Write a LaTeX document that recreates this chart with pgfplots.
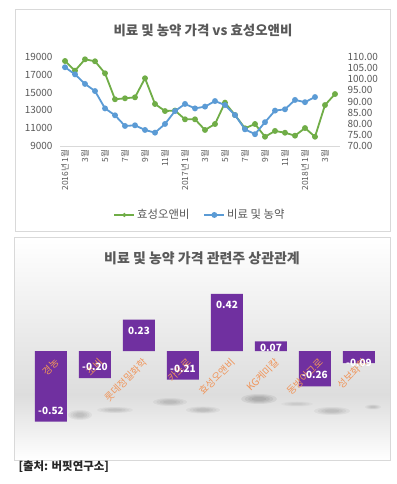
\documentclass[border=0pt]{standalone}
\usepackage{pgfplots}
\pgfplotsset{compat=1.18}
\usepackage{fontspec}
\setmainfont{Noto Sans CJK KR}
\definecolor{cgreen}{HTML}{70AD47}
\definecolor{cblue}{HTML}{5B9BD5}
\definecolor{cpurple}{HTML}{7030A0}
\definecolor{corange}{HTML}{F0955A}
\definecolor{ctext}{HTML}{595959}
\definecolor{cframe}{HTML}{D9D9D9}
\definecolor{cshade}{HTML}{DDDDDD}
\newcommand{\softshadow}[5]{% cx, cy, rx, ry, opacity
  \foreach \k in {1.0,0.8,0.6,0.4}{%
    \fill[black, opacity=#5] (#1bp,#2bp) ellipse ({#3*\k*1bp} and {#4*\k*1bp});}}

\begin{document}
\begin{tikzpicture}
\useasboundingbox (0bp,0bp) rectangle (397bp,484bp);
\fill[white] (0bp,0bp) rectangle (397bp,484bp);
% frames
\draw[cframe, line width=0.8bp] (15bp,253bp) rectangle (390bp,475bp);
\shade[top color=white, bottom color=cshade] (14bp,89bp) rectangle (390bp,247bp);
\shade[top color=cshade, bottom color=white] (14bp,24bp) rectangle (390bp,89.2bp);
% soft reflections under the bars
\softshadow{80}{69}{12}{5}{0.045}
\softshadow{115}{74}{18}{3}{0.04}
\softshadow{170}{82}{17}{4}{0.045}
\softshadow{203}{74}{17}{3.5}{0.045}
\softshadow{259}{85}{18}{5}{0.06}
\softshadow{297}{80}{16}{2.5}{0.025}
\softshadow{332}{73}{18}{4}{0.045}
\softshadow{373}{77}{8}{2.5}{0.035}
\draw[cframe, line width=0.8bp] (14bp,24bp) rectangle (390bp,247bp);
% titles
\node[font=\fontsize{13.5}{16}\selectfont\bfseries, text=ctext] at (203bp,454bp) {비료 및 농약 가격 vs 효성오앤비};
\node[font=\fontsize{14}{16}\selectfont\bfseries, text=ctext] at (202bp,226bp) {비료 및 농약 가격 관련주 상관관계};
\node[anchor=west, font=\fontsize{11.5}{14}\selectfont\bfseries, text=black!85] at (15bp,17bp) {[출처: 버핏연구소]};

% ---- top chart, left axis (green)
\begin{axis}[at={(60bp,338bp)}, anchor=south west, scale only axis,
  width=280bp, height=89bp,
  xmin=0.5, xmax=28.5, ymin=9000, ymax=19000,
  ytick={9000,11000,13000,15000,17000,19000},
  scaled y ticks=false,
  xtick={1,3,...,27},
  xticklabels={2016년 1월,3월,5월,7월,9월,11월,2017년 1월,3월,5월,7월,9월,11월,2018년 1월,3월},
  axis x line*=bottom, axis y line*=left,
  x axis line style={cframe, -, line width=0.8bp},
  y axis line style={draw=none},
  major tick length=0pt,
  /pgf/number format/assume math mode=true,
  /pgf/number format/1000 sep={},
  yticklabel style={font=\fontsize{10}{12}\selectfont, text=ctext, xshift=-4bp},
  xticklabel style={font=\fontsize{8.5}{10}\selectfont, text=ctext, rotate=90, anchor=east},
  clip=false]
\addplot[cgreen, line width=1.8bp, mark=*, mark size=2bp] coordinates {
(1,18550) (2,17460) (3,18740) (4,18520) (5,17170) (6,14250) (7,14360)
(8,14470) (9,16610) (10,13720) (11,12930) (12,12980) (13,12000) (14,12000)
(15,10800) (16,11470) (17,13870) (18,12480) (19,10990) (20,11470) (21,10040)
(22,10690) (23,10490) (24,10160) (25,11020) (26,10040) (27,13600) (28,14840)};
\end{axis}

% ---- top chart, right axis (blue)
\begin{axis}[at={(60bp,338bp)}, anchor=south west, scale only axis,
  width=280bp, height=89bp,
  xmin=0.5, xmax=28.5, ymin=70, ymax=110,
  ytick={70,75,...,110},
  axis y line*=right, axis x line=none,
  y axis line style={draw=none},
  major tick length=0pt,
  /pgf/number format/assume math mode=true,
  yticklabel style={font=\fontsize{10}{12}\selectfont, text=ctext, xshift=4bp,
    /pgf/number format/.cd, fixed, fixed zerofill, precision=2},
  legend image code/.code={\draw[mark repeat=2,mark phase=2,#1] plot coordinates {(0bp,0bp) (10bp,0bp) (20bp,0bp)};},
  legend style={at={(0.5,-0.775)}, anchor=center, draw=none, fill=none,
    font=\fontsize{11.4}{13}\selectfont, text=ctext, legend columns=2,
    /tikz/every even column/.append style={column sep=12bp}},
  clip=false]
\addlegendimage{cgreen, line width=1.8bp, mark=*, mark size=1bp}
\addlegendentry{효성오앤비}
\addplot[cblue, line width=1.8bp, mark=*, mark size=2bp] coordinates {
(1,105.4) (2,102.2) (3,97.9) (4,94.7) (5,86.9) (6,83.8) (7,79.0)
(8,79.3) (9,77.2) (10,76.0) (11,79.9) (12,85.7) (13,88.9) (14,86.9)
(15,87.7) (16,90.2) (17,88.4) (18,83.9) (19,77.5) (20,75.3) (21,80.7)
(22,85.9) (23,86.5) (24,90.7) (25,89.7) (26,92.0)};
\addlegendentry{비료 및 농약}
\end{axis}

% ---- bottom chart
\begin{axis}[at={(29bp,51.4bp)}, anchor=south west, scale only axis,
  width=352bp, height=149.6bp,
  xmin=-0.5, xmax=7.5, ymin=-0.6, ymax=0.5,
  hide axis, clip=false]
\addplot[ybar, bar width=32bp, fill=cpurple, draw=none, bar shift=0pt] coordinates {
(0,-0.52) (1,-0.20) (2,0.23) (3,-0.21) (4,0.42) (5,0.07) (6,-0.26) (7,-0.09)};
\addplot[draw=none, mark=none, nodes near coords, point meta=explicit symbolic,
  every node near coord/.style={anchor=center, text=white, font=\fontsize{10}{12}\selectfont\bfseries}]
  coordinates {
(0,-0.439) [-0.52] (1,-0.119) [-0.20] (2,0.149) [0.23] (3,-0.129) [-0.21]
(4,0.339) [0.42] (5,0.022) [0.07] (6,-0.179) [-0.26] (7,-0.088) [-0.09]};
\begin{scope}[every node/.style={rotate=45, anchor=east, text=corange, font=\fontsize{10}{12}\selectfont, xshift=1bp, yshift=-11bp}]
\node at (axis cs:0,0) {경농};
\node at (axis cs:1,0) {조비};
\node at (axis cs:2,0) {롯데정밀화학};
\node at (axis cs:3,0) {카프로};
\node at (axis cs:4,0) {효성오앤비};
\node at (axis cs:5,0) {KG케미칼};
\node at (axis cs:6,0) {동방아그로};
\node at (axis cs:7,0) {성보화학};
\end{scope}
\end{axis}
\end{tikzpicture}
\end{document}
